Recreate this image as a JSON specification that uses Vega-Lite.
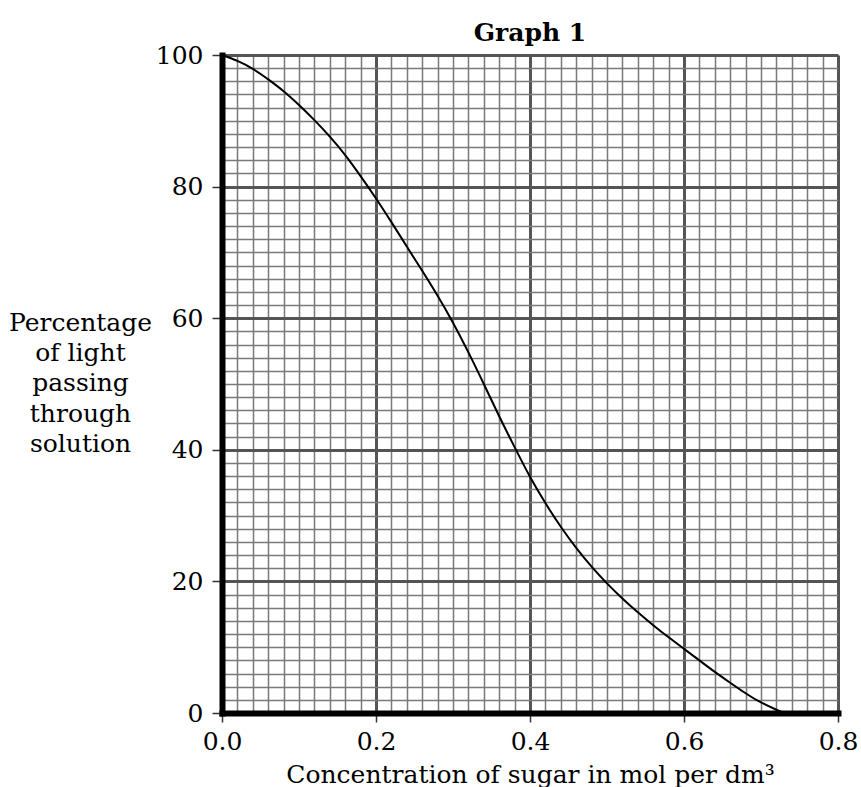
{
  "$schema": "https://vega.github.io/schema/vega-lite/v6.json",
  "width": 616,
  "height": 658,
  "autosize": {"type": "none"},
  "padding": {"left": 222, "top": 55, "right": 23, "bottom": 74},
  "background": "white",
  "config": {
    "view": {"stroke": null},
    "font": "DejaVu Serif",
    "axis": {
      "labelFont": "DejaVu Serif",
      "labelFontSize": 25,
      "labelColor": "black",
      "labelOverlap": false,
      "labelFlush": false,
      "labelBound": false,
      "titleFont": "DejaVu Serif",
      "titleFontSize": 25,
      "titleFontWeight": "normal",
      "titleColor": "black",
      "domainColor": "black",
      "domainWidth": 6,
      "domainCap": "square",
      "tickColor": "#333333",
      "tickWidth": 1.5,
      "grid": true,
      "gridOpacity": 1
    }
  },
  "title": {
    "text": "Graph 1",
    "font": "DejaVu Serif",
    "fontWeight": "bold",
    "fontSize": 25,
    "color": "black",
    "anchor": "middle",
    "baseline": "alphabetic",
    "offset": -23
  },
  "data": {
    "values": [
      {"c": 0, "p": 100},
      {"c": 0.02, "p": 99.1},
      {"c": 0.04, "p": 97.9},
      {"c": 0.06, "p": 96.3},
      {"c": 0.08, "p": 94.5},
      {"c": 0.1, "p": 92.4},
      {"c": 0.12, "p": 90.1},
      {"c": 0.14, "p": 87.6},
      {"c": 0.16, "p": 84.8},
      {"c": 0.18, "p": 81.6},
      {"c": 0.2, "p": 78.2},
      {"c": 0.22, "p": 74.6},
      {"c": 0.24, "p": 70.9},
      {"c": 0.26, "p": 67.2},
      {"c": 0.28, "p": 63.4},
      {"c": 0.3, "p": 59.3},
      {"c": 0.32, "p": 54.8},
      {"c": 0.34, "p": 50.0},
      {"c": 0.36, "p": 45.1},
      {"c": 0.38, "p": 40.4},
      {"c": 0.4, "p": 35.9},
      {"c": 0.42, "p": 31.9},
      {"c": 0.44, "p": 28.3},
      {"c": 0.46, "p": 25.1},
      {"c": 0.48, "p": 22.25},
      {"c": 0.5, "p": 19.7},
      {"c": 0.52, "p": 17.4},
      {"c": 0.54, "p": 15.3},
      {"c": 0.56, "p": 13.35},
      {"c": 0.58, "p": 11.5},
      {"c": 0.6, "p": 9.75},
      {"c": 0.62, "p": 8.0},
      {"c": 0.64, "p": 6.25},
      {"c": 0.66, "p": 4.6},
      {"c": 0.68, "p": 3.0},
      {"c": 0.7, "p": 1.6},
      {"c": 0.72, "p": 0.5},
      {"c": 0.73, "p": 0}
    ]
  },
  "mark": {"type": "line", "color": "black", "strokeWidth": 2, "interpolate": "natural"},
  "encoding": {
    "x": {
      "field": "c",
      "type": "quantitative",
      "scale": {"domain": [0, 0.8], "nice": false, "zero": false},
      "axis": {
        "title": "Concentration of sugar in mol per dm³",
        "values": [0, 0.02, 0.04, 0.06, 0.08, 0.1, 0.12, 0.14, 0.16, 0.18, 0.2, 0.22, 0.24, 0.26, 0.28, 0.3, 0.32, 0.34, 0.36, 0.38, 0.4, 0.42, 0.44, 0.46, 0.48, 0.5, 0.52, 0.54, 0.56, 0.58, 0.6, 0.62, 0.64, 0.66, 0.68, 0.7, 0.72, 0.74, 0.76, 0.78, 0.8],
        "format": ".1f",
        "labelExpr": "round(datum.value*100) % 20 === 0 ? datum.label : ''",
        "labelPadding": 7,
        "tickSize": 9,
        "tickOpacity": {"condition": {"test": "round(datum.value*100) % 20 === 0", "value": 1}, "value": 0},
        "gridColor": {"condition": {"test": "round(datum.value*100) % 20 === 0", "value": "#555555"}, "value": "#7a7a7a"},
        "gridWidth": {"condition": {"test": "round(datum.value*100) % 20 === 0", "value": 3}, "value": 1.5},
        "titleBaseline": "alphabetic",
        "titleAlign": "center",
        "titleX": 308,
        "titleY": 69
      }
    },
    "y": {
      "field": "p",
      "type": "quantitative",
      "scale": {"domain": [0, 100], "nice": false},
      "axis": {
        "title": ["Percentage", "of light", "passing", "through", "solution"],
        "values": [0, 2, 4, 6, 8, 10, 12, 14, 16, 18, 20, 22, 24, 26, 28, 30, 32, 34, 36, 38, 40, 42, 44, 46, 48, 50, 52, 54, 56, 58, 60, 62, 64, 66, 68, 70, 72, 74, 76, 78, 80, 82, 84, 86, 88, 90, 92, 94, 96, 98, 100],
        "format": "d",
        "labelExpr": "datum.value % 20 === 0 ? datum.label : ''",
        "labelPadding": 9,
        "tickSize": 10,
        "tickOpacity": {"condition": {"test": "datum.value % 20 === 0", "value": 1}, "value": 0},
        "gridColor": {"condition": {"test": "datum.value % 20 === 0", "value": "#555555"}, "value": "#7a7a7a"},
        "gridWidth": {"condition": {"test": "datum.value % 20 === 0", "value": 3}, "value": 1.5},
        "titleAngle": 0,
        "titleAlign": "center",
        "titleBaseline": "alphabetic",
        "titleX": -142,
        "titleY": 275,
        "titleLineHeight": 30.4
      }
    }
  }
}
